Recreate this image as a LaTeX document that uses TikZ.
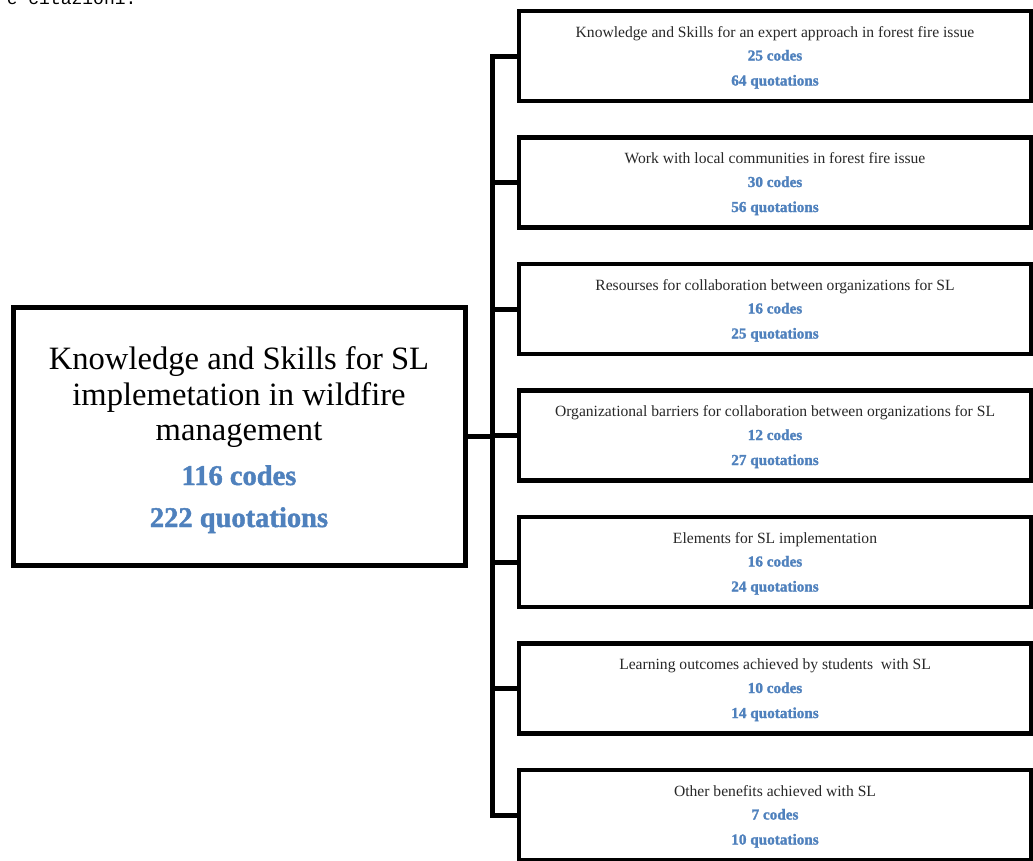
\documentclass[tikz,border=0pt]{standalone}
\usepackage{fontspec}
\setmainfont{Liberation Serif}
\newfontfamily\monof{Liberation Mono}
\newfontfamily\heavyf[FakeBold=1.5]{Liberation Serif Bold}
\definecolor{codeblue}{RGB}{79,129,189}
\definecolor{titlegray}{RGB}{40,40,40}
\begin{document}
\begin{tikzpicture}[x=1pt,y=-1pt,
  bigbox/.style={draw, line width=5pt, minimum width=452pt, minimum height=258pt, inner sep=0pt},
  catbox/.style={draw, line width=4.5pt, minimum width=512pt, minimum height=90pt, inner sep=0pt},
  bigtitle/.style={anchor=base, inner sep=0pt, font=\fontsize{32.6}{36}\selectfont, text=black},
  bignum/.style={anchor=base, inner sep=0pt, font=\heavyf\fontsize{28.5}{30}\selectfont, text=codeblue},
  cattitle/.style={anchor=base, inner sep=0pt, font=\fontsize{15.6}{17}\selectfont, text=titlegray},
  catnum/.style={anchor=base, inner sep=0pt, font=\heavyf\fontsize{15.2}{17}\selectfont, text=codeblue},
  link/.style={line width=5pt, line join=miter}]
\useasboundingbox (0,0) rectangle (1033,860);
\fill[white] (0,0) rectangle (1033,860);

% cut-off text at the top edge (as in the reference)
\node[anchor=base west, inner sep=0pt, font=\monof\fontsize{18}{20}\selectfont] (cut) at (6.6,4.5) {e citazioni.};

% main box
\node[bigbox] (L) at (239,436) {};
\node[bigtitle] (Lt1) at (239,369) {Knowledge and Skills for SL};
\node[bigtitle] (Lt2) at (239,405) {implemetation in wildfire};
\node[bigtitle] (Lt3) at (239,440) {management};
\node[bignum] (Lc) at (239,485) {116 codes};
\node[bignum] (Lq) at (239,527) {222 quotations};

% category boxes
\foreach \i/\cy/\ttl/\nc/\nq in {
  1/56/Knowledge and Skills for an expert approach in forest fire issue/25/64,
  2/182.5/Work with local communities in forest fire issue/30/56,
  3/309/Resourses for collaboration between organizations for SL/16/25,
  4/435.5/Organizational barriers for collaboration between organizations for SL/12/27,
  5/562/Elements for SL implementation/16/24,
  6/688.5/Learning outcomes achieved by students~ with SL/10/14,
  7/815/Other benefits achieved with SL/7/10}{
  \node[catbox] (B\i) at (775,\cy) {};
  \node[cattitle] (B\i t) at (775,\cy-19) {\ttl};
  \node[catnum] (B\i c) at (775,\cy+4.5) {\nc\ codes};
  \node[catnum] (B\i q) at (775,\cy+29.5) {\nq\ quotations};
}

% connectors
\coordinate (bus) at (492,436);
\draw[link] (B1.west) -- (B1.west -| bus) -- (B7.west -| bus) -- (B7.west);
\foreach \i in {2,3,4,5,6}{
  \draw[link] (B\i.west) -- (B\i.west -| bus);
}
\draw[link] (L.east) -- (L.east -| bus);
\end{tikzpicture}
\end{document}
